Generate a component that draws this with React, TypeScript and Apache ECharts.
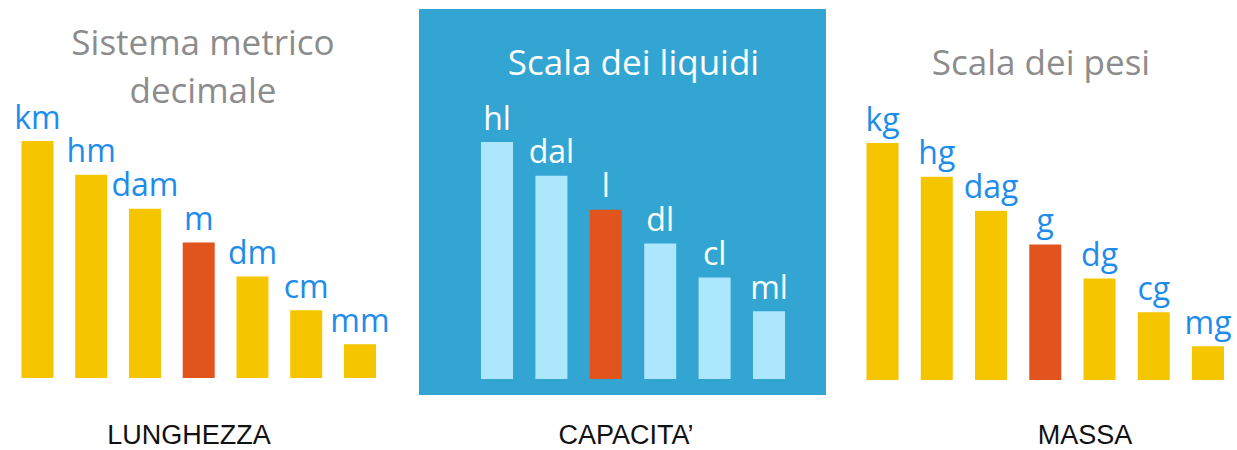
import React, { useEffect, useRef } from "react";
import * as echarts from "echarts";

const lengthUnits = ["km", "hm", "dam", "m", "dm", "cm", "mm"];
const lengthValues = [7, 6, 5, 4, 3, 2, 1];
const capacityUnits = ["hl", "dal", "l", "dl", "cl", "ml"];
const capacityValues = [7, 6, 5, 4, 3, 2];
const massUnits = ["kg", "hg", "dag", "g", "dg", "cg", "mg"];
const massValues = [7, 6, 5, 4, 3, 2, 1];
const baseUnits = ["m", "l", "g"];
const panelTitles = ["Sistema metrico\ndecimale", "Scala dei liquidi", "Scala dei pesi"];
const panelCaptions = ["LUNGHEZZA", "CAPACITA\u2019", "MASSA"];

const YELLOW = "#F5C500";
const RED = "#E2541E";
const LIGHT = "#ADE7FD";
const PANEL_BG = "#33A5D3";
const LABEL_BLUE = "#1E8CEB";
const TITLE_GRAY = "#8C8C8C";

export default function App() {
  const ref = useRef<HTMLDivElement>(null);
  useEffect(() => {
    if (!ref.current) return;
    const chart = echarts.init(ref.current, undefined, { renderer: "svg" });

    const grids = [
      { left: 10.6, width: 376.25, top: 141, height: 237 },
      { left: 469.8, width: 326.4, top: 142, height: 237 },
      { left: 855.4, width: 379.75, top: 143, height: 237 },
    ];
    const sets = [
      { units: lengthUnits, values: lengthValues, base: YELLOW, label: LABEL_BLUE },
      { units: capacityUnits, values: capacityValues, base: LIGHT, label: "#FFFFFF" },
      { units: massUnits, values: massValues, base: YELLOW, label: LABEL_BLUE },
    ];

    const series = sets.map((s, i) => ({
      type: "bar",
      xAxisIndex: i,
      yAxisIndex: i,
      barWidth: 32,
      data: s.values.map((v, j) => ({
        value: v,
        itemStyle: { color: baseUnits.includes(s.units[j]) ? RED : s.base },
      })),
      label: {
        show: true,
        position: "top",
        distance: 9,
        formatter: (p: any) => s.units[p.dataIndex],
        color: s.label,
        fontFamily: "Open Sans",
        fontSize: 32,
      },
    }));

    const titleCenters = [203, 633.5, 1041];
    const titleTops = [17, 40, 40];
    const captionCenters = [189, 626, 1085];

    chart.setOption({
      animation: false,
      grid: grids.map((g) => ({ ...g, containLabel: false })),
      xAxis: sets.map((s, i) => ({
        type: "category",
        gridIndex: i,
        data: s.units,
        show: false,
      })),
      yAxis: sets.map((_, i) => ({
        type: "value",
        gridIndex: i,
        min: 0,
        max: 7,
        show: false,
      })),
      title: panelTitles.map((t, i) => ({
        text: t,
        left: titleCenters[i],
        top: titleTops[i],
        textAlign: "center",
        padding: 0,
        textStyle: {
          color: i === 1 ? "#FFFFFF" : TITLE_GRAY,
          fontFamily: "Open Sans",
          fontWeight: "normal",
          fontSize: 35,
          lineHeight: i === 0 ? 48 : 43,
        },
      })),
      graphic: [
        {
          type: "rect",
          z: -10,
          shape: { x: 419, y: 9, width: 407, height: 386 },
          style: { fill: PANEL_BG },
        },
        ...panelCaptions.map((c, i) => ({
          type: "text",
          x: captionCenters[i],
          y: 435,
          style: {
            text: c,
            fill: "#111111",
            font: "27px 'Liberation Sans', Arial, sans-serif",
            textAlign: "center",
            textVerticalAlign: "middle",
          },
        })),
      ],
      series,
    });
    return () => chart.dispose();
  }, []);
  return (
    <div
      ref={ref}
      style={{ position: "absolute", left: 0, top: 0, width: 1237, height: 450, background: "#fff" }}
    />
  );
}
